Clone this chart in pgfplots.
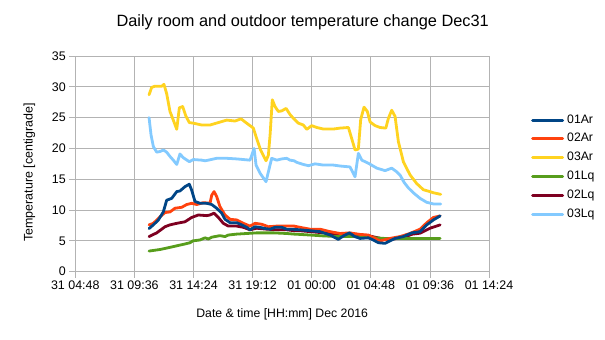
\documentclass[border=0pt]{standalone}
\usepackage{fontspec}
\setmainfont{Liberation Sans}
\usepackage{pgfplots}
\pgfplotsset{compat=1.18}
\definecolor{cA}{HTML}{004586}
\definecolor{cB}{HTML}{FF420E}
\definecolor{cC}{HTML}{FFD320}
\definecolor{cD}{HTML}{579D1C}
\definecolor{cE}{HTML}{7E0021}
\definecolor{cF}{HTML}{83CAFF}
\definecolor{gridgray}{HTML}{B3B3B3}
\begin{document}
\begin{tikzpicture}
\useasboundingbox (0,0) rectangle (605bp,340bp);
\begin{axis}[
  at={(75.3bp,68.3bp)}, anchor=south west,
  scale only axis, width=413.7bp, height=215.7bp,
  xmin=4.8, xmax=38.4, ymin=0, ymax=35,
  xtick={4.8,9.6,14.4,19.2,24,28.8,33.6,38.4},
  xticklabels={31 04:48,31 09:36,31 14:24,31 19:12,01 00:00,01 04:48,01 09:36,01 14:24},
  ytick={0,5,10,15,20,25,30,35},
  grid=major,
  grid style={color=gridgray, line width=0.8bp},
  axis line style={gridgray, line width=0.8bp},
  tick style={gridgray, line width=0.8bp},
  tick align=outside, major tick length=6bp, tick pos=left,
  ticklabel style={font=\fontsize{12.5}{12.5}\selectfont, text=black},
  /pgf/number format/assume math mode=true,
  title={Daily room and outdoor temperature change Dec31},
  title style={at={(axis description cs:0.5497,1)}, anchor=base, yshift=23.7bp, inner sep=0pt, font=\fontsize{16.4}{16.4}\selectfont},
  xlabel={Date \& time [HH:mm] Dec 2016},
  xlabel style={at={(axis description cs:0.5,0)}, anchor=base, yshift=-46bp, inner sep=0pt, font=\fontsize{12.3}{12.3}\selectfont},
  ylabel={Temperature [centigrade]},
  ylabel style={at={(axis description cs:-0.1257,0.46)}, anchor=north, inner sep=0pt, font=\fontsize{12.5}{12.5}\selectfont},
  legend style={at={(axis description cs:1.1015,0.7316)}, anchor=north west, draw=none, fill=none, inner sep=0pt,
    font=\fontsize{12.3}{12.3}\selectfont, row sep=6.8bp, column sep=3bp,
    nodes={inner sep=0pt, text height=9bp, text depth=3bp}},
  legend cell align=left,
  legend image code/.code={\draw[#1, line width=3bp] (0bp,0bp) -- (30bp,0bp);},
  reverse legend,
  every axis plot/.append style={line width=2.8bp, line join=round, line cap=round},
]
\addplot[cF] coordinates {(10.79,25.0) (10.95,22.2) (11.14,20.3) (11.41,19.4) (11.68,19.5) (11.95,19.75) (12.22,19.4) (12.49,18.7) (12.76,18.1) (13.04,17.4) (13.3,19.1) (13.57,18.5) (14.06,17.85) (14.39,18.2) (15.07,18.1) (15.34,18.0) (15.6,18.1) (16.28,18.4) (17.1,18.4) (17.91,18.3) (18.99,18.1) (19.1,18.7) (19.32,20.0) (19.48,17.3) (19.8,16.0) (20.29,14.6) (20.48,16.2) (20.75,18.4) (21.16,18.1) (21.57,18.3) (21.97,18.4) (22.24,18.1) (22.57,18.0) (22.78,17.75) (23.32,17.4) (23.73,17.2) (24.27,17.5) (24.95,17.3) (25.76,17.3) (26.3,17.15) (27.11,17.0) (27.52,15.4) (27.79,19.2) (28.07,18.1) (28.6,17.6) (29.29,16.8) (29.96,16.4) (30.5,16.8) (30.91,16.2) (31.2,15.6) (31.5,14.5) (31.85,13.6) (32.26,12.8) (32.8,11.9) (33.34,11.26) (33.88,11.0) (34.48,11.0)};
\addplot[cE] coordinates {(10.79,5.7) (11.41,6.3) (12.09,7.3) (12.49,7.6) (13.04,7.85) (13.71,8.1) (14.25,8.8) (14.79,9.2) (15.47,9.1) (15.74,9.2) (16.07,9.5) (16.42,8.8) (16.82,7.85) (17.23,7.4) (17.91,7.4) (18.45,7.2) (18.99,6.8) (19.53,7.05) (20.35,6.9) (21.16,6.8) (21.97,6.8) (22.57,6.65) (23.05,6.65) (23.86,6.5) (25.0,6.3) (26.2,5.95) (27.5,6.05) (28.7,5.8) (29.6,5.4) (30.3,5.2) (31.4,5.55) (32.2,6.1) (32.8,6.25) (33.6,7.05) (34.43,7.6)};
\addplot[cD] coordinates {(10.79,3.35) (11.68,3.6) (12.49,3.95) (13.04,4.2) (13.71,4.5) (14.12,4.7) (14.34,5.0) (14.93,5.15) (15.34,5.5) (15.6,5.3) (15.88,5.6) (16.55,5.85) (16.96,5.7) (17.23,5.95) (17.91,6.1) (18.72,6.2) (19.53,6.3) (20.89,6.3) (21.97,6.2) (22.57,6.1) (23.05,6.05) (23.86,5.95) (25.0,5.8) (26.3,5.7) (27.5,5.7) (28.7,5.55) (29.9,5.4) (31.0,5.4) (34.43,5.4)};
\addplot[cC] coordinates {(10.79,28.7) (11.0,29.9) (11.27,30.1) (11.82,30.1) (12.0,30.4) (12.22,28.9) (12.49,26.0) (12.76,24.6) (13.04,23.1) (13.25,26.6) (13.52,26.8) (13.79,25.2) (14.06,24.2) (14.39,24.1) (15.07,23.8) (15.74,23.8) (16.42,24.2) (17.1,24.6) (17.77,24.45) (18.26,24.8) (18.72,24.1) (19.26,23.3) (19.53,21.6) (19.86,19.7) (20.29,18.0) (20.48,18.9) (20.62,22.2) (20.8,27.9) (21.02,26.8) (21.29,26.0) (21.57,26.1) (21.92,26.5) (22.24,25.5) (22.51,24.9) (22.92,24.1) (23.32,23.8) (23.6,23.1) (24.0,23.7) (24.41,23.4) (24.95,23.15) (25.76,23.15) (26.3,23.3) (26.98,23.4) (27.25,21.6) (27.52,19.75) (27.79,19.9) (27.98,24.7) (28.25,26.7) (28.52,26.0) (28.74,24.3) (29.15,23.7) (29.55,23.4) (30.02,23.3) (30.23,24.9) (30.5,26.2) (30.77,25.2) (31.04,21.1) (31.45,17.8) (31.99,15.7) (32.53,14.3) (33.07,13.3) (33.6,13.0) (33.9,12.8) (34.48,12.55)};
\addplot[cB] coordinates {(10.79,7.6) (11.14,7.85) (11.68,8.9) (12.09,9.6) (12.49,9.7) (12.9,10.3) (13.44,10.45) (13.85,10.9) (14.25,11.1) (14.66,10.9) (15.2,11.2) (15.74,11.1) (15.88,12.4) (16.07,13.0) (16.28,12.2) (16.55,10.55) (16.96,9.2) (17.37,8.5) (17.91,8.4) (18.45,7.85) (18.99,7.4) (19.4,7.85) (19.94,7.7) (20.48,7.3) (21.16,7.4) (21.97,7.4) (22.57,7.4) (23.05,7.2) (23.86,6.9) (24.67,6.9) (25.49,6.5) (26.3,6.2) (27.1,6.3) (27.93,6.05) (28.6,5.95) (29.15,5.4) (29.55,5.0) (30.36,5.4) (31.17,5.7) (31.98,6.2) (32.8,6.9) (33.35,7.95) (33.88,8.8) (34.43,9.05)};
\addplot[cA] coordinates {(10.79,7.0) (11.14,7.6) (11.55,8.4) (11.95,9.7) (12.22,11.6) (12.63,11.9) (13.04,13.0) (13.3,13.1) (13.71,13.8) (14.06,14.2) (14.25,13.25) (14.52,11.4) (14.93,11.1) (15.47,11.1) (15.88,10.9) (16.28,10.3) (16.69,9.5) (16.96,8.5) (17.37,7.95) (17.91,7.95) (18.32,7.6) (18.72,7.2) (18.99,6.8) (19.4,7.3) (19.8,7.2) (20.21,7.0) (20.62,6.9) (21.02,7.2) (21.57,7.2) (21.97,6.9) (22.4,6.9) (23.05,6.8) (23.86,6.65) (24.67,6.5) (25.49,5.95) (26.16,5.25) (26.57,5.8) (27.06,6.3) (27.5,5.7) (27.93,5.4) (28.6,5.5) (29.0,5.15) (29.41,4.7) (29.96,4.6) (30.36,5.0) (30.77,5.4) (31.45,5.7) (32.13,6.3) (32.8,6.5) (33.35,7.6) (33.88,8.4) (34.43,9.05)};
\legend{03Lq,02Lq,01Lq,03Ar,02Ar,01Ar}
\end{axis}
\end{tikzpicture}
\end{document}
